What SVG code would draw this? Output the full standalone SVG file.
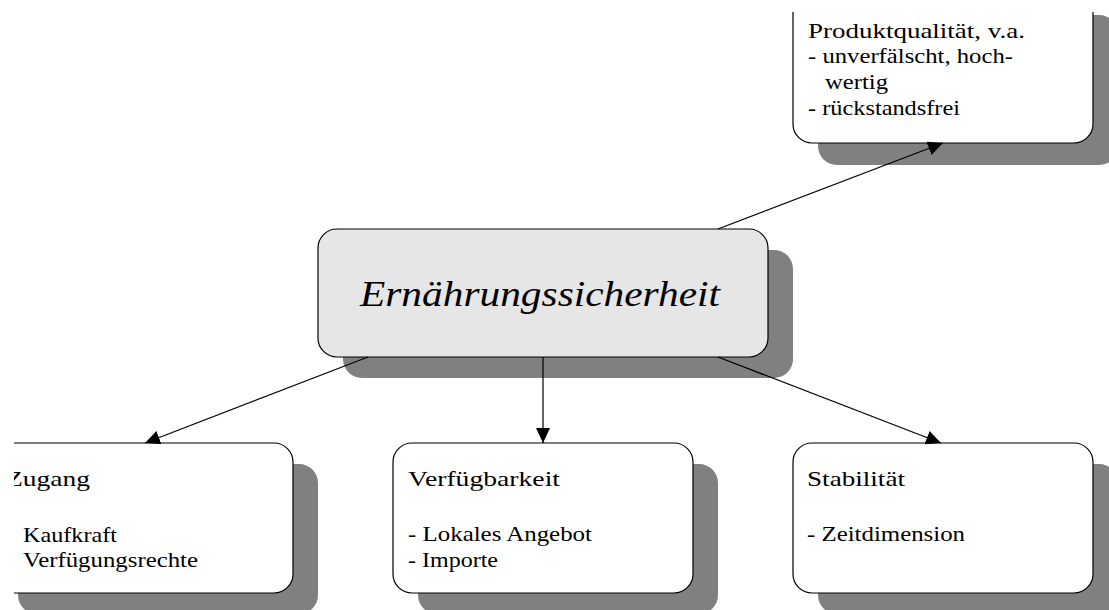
<svg xmlns="http://www.w3.org/2000/svg" width="1109" height="610" viewBox="0 0 1109 610">
<defs>
<style>
.shadow{fill:#808080;}
.box{fill:#ffffff;stroke:#000000;stroke-width:1.2;}
.main{fill:#e6e6e6;stroke:#000000;stroke-width:1.2;}
.t{font-family:"Liberation Serif","Times New Roman",serif;font-size:22px;fill:#000000;}
.big{font-family:"Liberation Serif","Times New Roman",serif;font-size:36px;font-style:italic;fill:#000000;}
.conn{stroke:#000000;stroke-width:1.2;fill:none;marker-end:url(#arrow);}
</style>
<marker id="arrow" markerUnits="userSpaceOnUse" markerWidth="16" markerHeight="16" refX="15" refY="7" orient="auto">
<path d="M0,0 L15,7 L0,14 z" fill="#000000"/>
</marker>
<clipPath id="clipTop"><rect x="0" y="12" width="1109" height="598"/></clipPath>
<clipPath id="clipLeft"><rect x="14" y="0" width="1095" height="610"/></clipPath>
</defs>
<rect width="1109" height="610" fill="#ffffff"/>

<g id="node-produktqualitaet" clip-path="url(#clipTop)">
<rect class="shadow" x="818" y="15" width="300" height="150" rx="19"/>
<rect class="box" x="793" y="-7" width="300" height="150" rx="19"/>
<text class="t" x="808" y="38" textLength="217" lengthAdjust="spacingAndGlyphs">Produktqualität, v.a.</text>
<text class="t" x="808" y="63" textLength="205" lengthAdjust="spacingAndGlyphs">- unverfälscht, hoch-</text>
<text class="t" x="825" y="89" textLength="63" lengthAdjust="spacingAndGlyphs">wertig</text>
<text class="t" x="808" y="115" textLength="152" lengthAdjust="spacingAndGlyphs">- rückstandsfrei</text>
</g>

<g id="node-ernaehrungssicherheit">
<rect class="shadow" x="343" y="250" width="450" height="128" rx="19"/>
<rect class="main" x="318" y="229" width="450" height="128" rx="19"/>
<text class="big" x="360" y="306" textLength="360" lengthAdjust="spacingAndGlyphs">Ernährungssicherheit</text>
</g>

<g id="node-zugang" clip-path="url(#clipLeft)">
<rect class="shadow" x="18" y="464" width="300" height="150" rx="19"/>
<rect class="box" x="-7" y="443" width="300" height="150" rx="19"/>
<text class="t" x="6" y="486" textLength="84" lengthAdjust="spacingAndGlyphs">Zugang</text>
<text class="t" x="23" y="542" textLength="94" lengthAdjust="spacingAndGlyphs">Kaufkraft</text>
<text class="t" x="23" y="567" textLength="175" lengthAdjust="spacingAndGlyphs">Verfügungsrechte</text>
</g>

<g id="node-verfuegbarkeit">
<rect class="shadow" x="418" y="464" width="300" height="150" rx="19"/>
<rect class="box" x="393" y="443" width="300" height="150" rx="19"/>
<text class="t" x="408" y="486" textLength="152" lengthAdjust="spacingAndGlyphs">Verfügbarkeit</text>
<text class="t" x="408" y="541" textLength="184" lengthAdjust="spacingAndGlyphs">- Lokales Angebot</text>
<text class="t" x="408" y="567" textLength="90" lengthAdjust="spacingAndGlyphs">- Importe</text>
</g>

<g id="node-stabilitaet">
<rect class="shadow" x="818" y="464" width="300" height="150" rx="19"/>
<rect class="box" x="793" y="443" width="300" height="150" rx="19"/>
<text class="t" x="807" y="486" textLength="98" lengthAdjust="spacingAndGlyphs">Stabilität</text>
<text class="t" x="807" y="541" textLength="158" lengthAdjust="spacingAndGlyphs">- Zeitdimension</text>
</g>

<g id="connectors">
<line class="conn" x1="718" y1="229" x2="943" y2="143"/>
<line class="conn" x1="368" y1="357" x2="145" y2="443"/>
<line class="conn" x1="543" y1="357" x2="543" y2="443"/>
<line class="conn" x1="718" y1="357" x2="941" y2="443"/>
</g>
</svg>
